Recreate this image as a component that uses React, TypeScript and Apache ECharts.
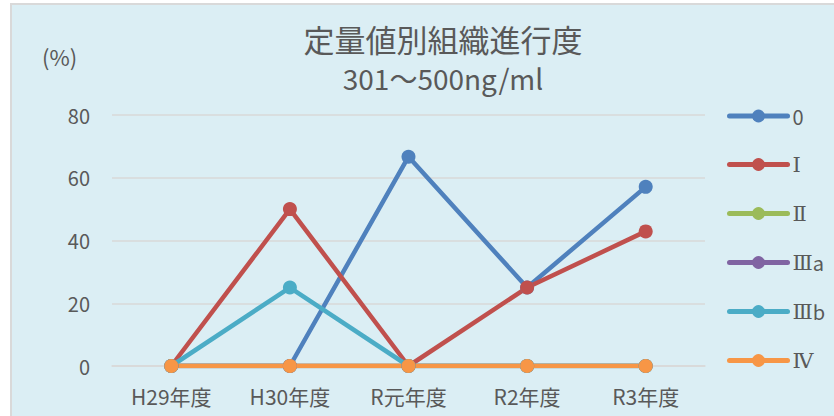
import React, { useEffect, useRef } from "react";
import * as echarts from "echarts";

const categories = ["H29年度", "H30年度", "R元年度", "R2年度", "R3年度"];
const seriesNames = ["0", "Ⅰ", "Ⅱ", "Ⅲa", "Ⅲb", "Ⅳ"];
const s0 = [0, 0, 66.7, 25, 57.1];
const s1 = [0, 50, 0, 25, 42.9];
const s2 = [0, 0, 0, 0, 0];
const s3a = [0, 0, 0, 0, 0];
const s3b = [0, 25, 0, 0, 0];
const s4 = [0, 0, 0, 0, 0];
const seriesValues = [s0, s1, s2, s3a, s3b, s4];
const colors = ["#4F81BD", "#C0504D", "#9BBB59", "#8064A2", "#4BACC6", "#F79646"];
const yTicks = { min: 0, max: 80, interval: 20 };

const FONT = "'Noto Sans CJK JP', 'Noto Sans', sans-serif";
const SERIF = "'DejaVu Serif', 'Liberation Serif', serif";
const TXT = "#595959";

function legendLabel(name: string): string {
  const m = name.match(/^([Ⅰ-Ⅻ]+)(.*)$/);
  if (!m) return "{s|" + name + "}";
  return "{r|" + m[1] + "}" + (m[2] ? "{s|" + m[2] + "}" : "");
}

export default function App() {
  const ref = useRef<HTMLDivElement>(null);
  useEffect(() => {
    const chart = echarts.init(ref.current!, undefined, { renderer: "svg" });
    chart.setOption({
      animation: false,
      backgroundColor: "#ffffff",
      textStyle: { fontFamily: FONT },
      graphic: [
        {
          type: "rect",
          z: -10,
          shape: { x: 11, y: 4, width: 840, height: 430 },
          style: { fill: "#DBEEF4", stroke: "#D9D9D9", lineWidth: 2 },
        },
        {
          type: "text",
          left: 42,
          top: 45,
          style: { text: "(%)", fontSize: 22, fill: TXT, fontFamily: FONT },
        },
      ],
      title: {
        text: "定量値別組織進行度",
        subtext: "301～500ng/ml",
        left: 438,
        textAlign: "center",
        top: 18,
        itemGap: 10,
        textStyle: { fontSize: 31, fontWeight: "normal", color: TXT, fontFamily: FONT },
        subtextStyle: { fontSize: 28, color: TXT, fontFamily: FONT },
      },
      legend: {
        orient: "vertical",
        left: 722,
        top: 101,
        itemWidth: 58,
        itemHeight: 16,
        itemGap: 28,
        data: seriesNames,
        lineStyle: { width: 5, cap: "round" },
        formatter: legendLabel,
        textStyle: {
          fontSize: 20,
          color: TXT,
          fontFamily: FONT,
          rich: {
            s: { fontSize: 20, color: TXT, fontFamily: FONT },
            r: { fontSize: 21, color: TXT, fontFamily: SERIF },
          },
        },
      },
      grid: { left: 112, right: 129, top: 115, bottom: 50 },
      xAxis: {
        type: "category",
        data: categories,
        boundaryGap: true,
        axisLine: { show: true, lineStyle: { color: "#D9D9D9", width: 1.5 } },
        axisTick: { show: false },
        axisLabel: { fontSize: 21, color: TXT, margin: 19, fontFamily: FONT },
      },
      yAxis: {
        type: "value",
        min: yTicks.min,
        max: yTicks.max,
        interval: yTicks.interval,
        axisLine: { show: false },
        axisTick: { show: false },
        splitLine: { lineStyle: { color: "#D9D9D9", width: 1.5 } },
        axisLabel: { fontSize: 20, color: TXT, margin: 22, fontFamily: FONT },
      },
      series: seriesNames.map((name, i) => ({
        name,
        type: "line",
        data: seriesValues[i],
        color: colors[i],
        symbol: "circle",
        symbolSize: 14,
        lineStyle: { width: 4.5, color: colors[i], cap: "round", join: "round" },
        itemStyle: { color: colors[i] },
      })),
    });
    return () => chart.dispose();
  }, []);
  return (
    <div
      ref={ref}
      style={{ position: "fixed", left: 0, top: 0, width: 834, height: 416 }}
    />
  );
}
